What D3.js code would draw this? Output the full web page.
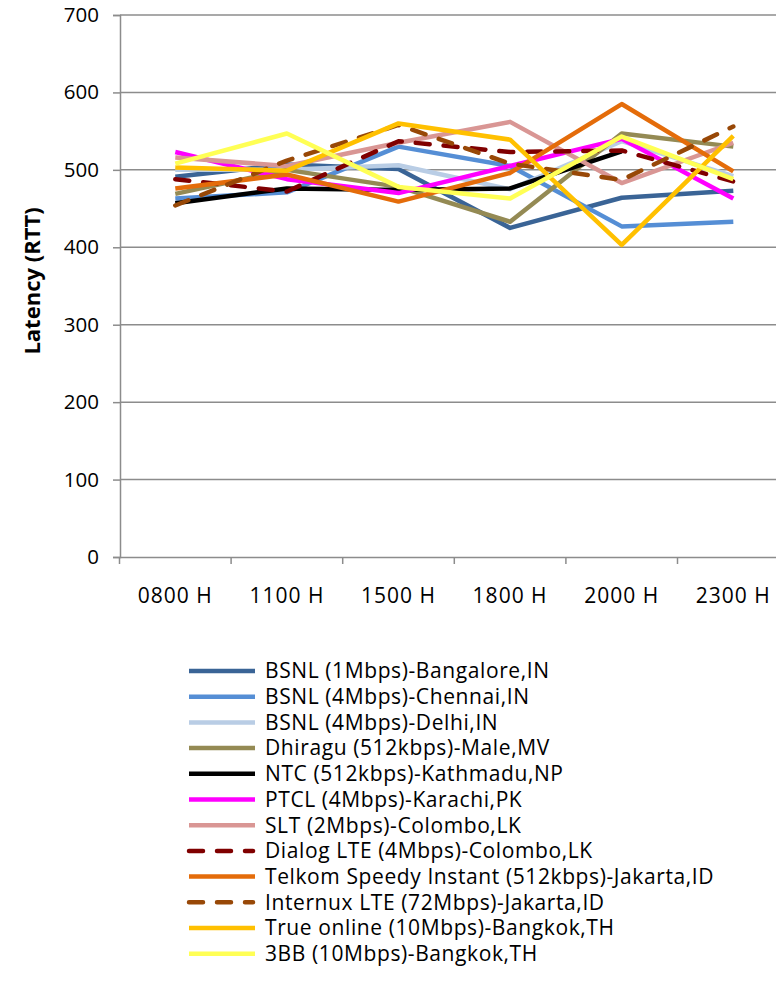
<!DOCTYPE html>
<html>
<head>
<meta charset="utf-8">
<script src="https://cdn.jsdelivr.net/npm/d3@7"></script>
<style>
body { margin: 0; background: #fff; }
text { font-family: "Open Sans", sans-serif; fill: #000; }
</style>
</head>
<body>
<script>
var categories = ["0800 H", "1100 H", "1500 H", "1800 H", "2000 H", "2300 H"];
var yTicks = [0, 100, 200, 300, 400, 500, 600, 700];

var seriesNames = [
  "BSNL (1Mbps)-Bangalore,IN",
  "BSNL (4Mbps)-Chennai,IN",
  "BSNL (4Mbps)-Delhi,IN",
  "Dhiragu (512kbps)-Male,MV",
  "NTC (512kbps)-Kathmadu,NP",
  "PTCL (4Mbps)-Karachi,PK",
  "SLT (2Mbps)-Colombo,LK",
  "Dialog LTE (4Mbps)-Colombo,LK",
  "Telkom Speedy Instant (512kbps)-Jakarta,ID",
  "Internux LTE (72Mbps)-Jakarta,ID",
  "True online (10Mbps)-Bangkok,TH",
  "3BB (10Mbps)-Bangkok,TH"
];

var bangalore = [491, 507, 501, 425, 464, 473];
var chennai   = [463, 471, 530, 505, 427, 433];
var delhi     = [500, 500, 506, 475, 537, 492];
var dhiragu   = [469, 500, 478, 433, 547, 530];
var ntc       = [457, 476, 474, 476, 524, null];
var ptcl      = [523, 488, 470, 505, 540, 463];
var slt       = [516, 505, 535, 562, 483, 535];
var dialog    = [488, 472, 537, 523, 525, 485];
var telkom    = [476, 494, 459, 496, 585, 498];
var internux  = [454, 512, 558, 508, 487, 556];
var trueOnline= [503, 499, 560, 539, 403, 544];
var bb3       = [508, 547, 478, 463, 543, 488];

var seriesValues = [bangalore, chennai, delhi, dhiragu, ntc, ptcl, slt, dialog, telkom, internux, trueOnline, bb3];
var seriesColors = ["#3A6496", "#558ED5", "#B9CDE5", "#948A54", "#000000", "#FF00FF",
                    "#D99694", "#800000", "#E46C0A", "#984807", "#FFC000", "#FFFF55"];
var seriesDashed = [false, false, false, false, false, false, false, true, false, true, false, false];

var svgWidth = 776, svgHeight = 991;
var svg = d3.select("body").append("svg").attr("width", svgWidth).attr("height", svgHeight);

var x = d3.scaleBand().domain(categories).range([119.5, 789.1]);
var y = d3.scaleLinear().domain([0, 700]).range([557, 15]);

// gridlines
svg.append("g").selectAll("line").data(yTicks.slice(1)).enter().append("line")
  .attr("x1", 120).attr("x2", svgWidth).attr("y1", d => y(d)).attr("y2", d => y(d))
  .attr("stroke", "#8C8C8C").attr("stroke-width", 1.5);

// y axis
var yAxis = d3.axisLeft(y).tickValues(yTicks).tickSize(7).tickPadding(14);
var gy = svg.append("g").attr("transform", "translate(120,0)").call(yAxis);
gy.select(".domain").attr("stroke", "#8C8C8C").attr("stroke-width", 1.5);
gy.selectAll(".tick line").attr("stroke", "#8C8C8C").attr("stroke-width", 1.5);
gy.selectAll("text").attr("font-size", "20.5px").attr("font-family", "'Open Sans', sans-serif");

// x axis
var xAxis = d3.axisBottom(x).tickSize(0).tickPadding(31);
var gx = svg.append("g").attr("transform", "translate(0,557)").call(xAxis);
gx.select(".domain").attr("stroke", "#8C8C8C").attr("stroke-width", 1.5);
gx.selectAll("text").attr("font-size", "21px").attr("font-family", "'Open Sans', sans-serif")
  .attr("letter-spacing", "1px");
gx.selectAll(".sep").data(categories).enter().append("line").attr("class", "sep")
  .attr("x1", d => x(d)).attr("x2", d => x(d)).attr("y1", 0).attr("y2", 7)
  .attr("stroke", "#8C8C8C").attr("stroke-width", 1.5);

// axis title
svg.append("text").attr("transform", "translate(40,281) rotate(-90)")
  .attr("text-anchor", "middle").attr("font-size", "22px").attr("font-weight", "bold")
  .text("Latency (RTT)");

// series lines
var line = d3.line()
  .defined(d => d != null)
  .x((d, i) => x(categories[i]) + x.bandwidth() / 2)
  .y(d => y(d));

seriesValues.forEach(function (vals, s) {
  svg.append("path").datum(vals).attr("d", line)
    .attr("fill", "none").attr("stroke", seriesColors[s]).attr("stroke-width", 4.5)
    .attr("stroke-linejoin", "round")
    .attr("stroke-linecap", seriesDashed[s] ? "round" : "butt")
    .attr("stroke-dasharray", seriesDashed[s] ? "14,14" : null);
});

// legend
var legend = svg.append("g");
seriesNames.forEach(function (name, s) {
  var ly = 671 + s * 25.7;
  legend.append("line").attr("x1", 189).attr("x2", seriesDashed[s] ? 253 : 255)
    .attr("y1", ly).attr("y2", ly)
    .attr("stroke", seriesColors[s]).attr("stroke-width", 4.5)
    .attr("stroke-linecap", seriesDashed[s] ? "round" : "butt")
    .attr("stroke-dasharray", seriesDashed[s] ? "14,14" : null);
  legend.append("text").attr("x", 265).attr("y", ly).attr("dy", "0.35em")
    .attr("font-size", "21px").attr("letter-spacing", "0.6px").text(name);
});
</script>
</body>
</html>
